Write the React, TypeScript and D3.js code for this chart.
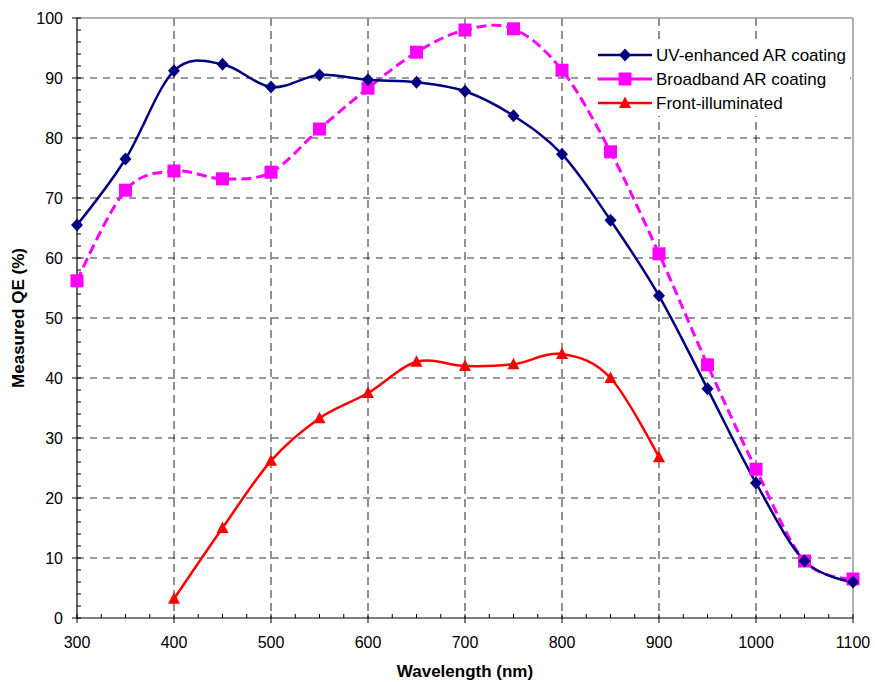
import React from "react";
import * as d3 from "d3";

const wavelengths = [300, 350, 400, 450, 500, 550, 600, 650, 700, 750, 800, 850, 900, 950, 1000, 1050, 1100];
const uvEnhanced = [65.5, 76.5, 91.2, 92.3, 88.5, 90.5, 89.7, 89.3, 87.8, 83.7, 77.3, 66.3, 53.7, 38.2, 22.5, 9.5, 6.0];
const broadband = [56.2, 71.3, 74.5, 73.2, 74.3, 81.5, 88.3, 94.3, 98.0, 98.2, 91.3, 77.7, 60.7, 42.2, 24.8, 9.5, 6.5];
const frontWavelengths = [400, 450, 500, 550, 600, 650, 700, 750, 800, 850, 900];
const frontIlluminated = [3.2, 15.0, 26.2, 33.3, 37.5, 42.7, 42.0, 42.3, 44.0, 40.0, 26.8];
const xTicks = [300, 400, 500, 600, 700, 800, 900, 1000, 1100];
const yTicks = [0, 10, 20, 30, 40, 50, 60, 70, 80, 90, 100];
const seriesNames = ["UV-enhanced AR coating", "Broadband AR coating", "Front-illuminated"];

const W = 875, H = 682;
const left = 77, right = 853, top = 18, bottom = 618;
const font = "'Liberation Sans', Arial, sans-serif";

export default function App() {
  const x = d3.scaleLinear().domain([300, 1100]).range([left, right]);
  const y = d3.scaleLinear().domain([0, 100]).range([bottom, top]);
  const line = d3.line<[number, number]>().x(d => x(d[0])).y(d => y(d[1])).curve(d3.curveCatmullRom.alpha(0));

  const uvPts = wavelengths.map((w, i) => [w, uvEnhanced[i]] as [number, number]);
  const bbPts = wavelengths.map((w, i) => [w, broadband[i]] as [number, number]);
  const fiPts = frontWavelengths.map((w, i) => [w, frontIlluminated[i]] as [number, number]);

  const navy = "#000080";
  const magenta = "#ff00ff";
  const red = "#ff0000";

  const diamond = (cx: number, cy: number, key: any) => (
    <path key={key} d={`M${cx},${cy - 6.5}L${cx + 6},${cy}L${cx},${cy + 6.5}L${cx - 6},${cy}Z`} fill={navy} />
  );
  const square = (cx: number, cy: number, key: any) => (
    <rect key={key} x={cx - 6.5} y={cy - 6.5} width={13} height={13} fill={magenta} />
  );
  const triangle = (cx: number, cy: number, key: any) => (
    <path key={key} d={`M${cx},${cy - 6.5}L${cx + 6},${cy + 5}L${cx - 6},${cy + 5}Z`} fill={red} />
  );

  const minorX = d3.range(300, 1100.1, 25);
  const minorY = d3.range(0, 100.1, 2);

  const legX = 598, legY = 40, legW = 252, legH = 76;
  const legRows = [55, 79, 103];

  return (
    <svg width={W} height={H} style={{ position: "absolute", left: 0, top: 0, background: "#fff" }}>
      <rect x={0} y={0} width={W} height={H} fill="#fff" />
      {/* grid */}
      {yTicks.filter(t => t > 0 && t < 100).map(t => (
        <line key={"gy" + t} x1={left} x2={right} y1={y(t)} y2={y(t)} stroke="#333" strokeWidth={1} strokeDasharray="7,6" />
      ))}
      {xTicks.filter(t => t > 300 && t < 1100).map(t => (
        <line key={"gx" + t} x1={x(t)} x2={x(t)} y1={top} y2={bottom} stroke="#222" strokeWidth={1} strokeDasharray="8,5" />
      ))}
      {/* legend background */}
      <rect x={legX} y={legY} width={legW} height={legH} fill="#fff" />
      {/* plot border */}
      <line x1={left} x2={right} y1={top} y2={top} stroke="#999" strokeWidth={1.5} />
      <line x1={right} x2={right} y1={top} y2={bottom} stroke="#999" strokeWidth={1.5} />
      {/* axes */}
      <line x1={left} x2={left} y1={top} y2={bottom} stroke="#000" strokeWidth={1.2} />
      <line x1={left} x2={right} y1={bottom} y2={bottom} stroke="#000" strokeWidth={1.2} />
      {minorX.map(t => (
        <line key={"mx" + t} x1={x(t)} x2={x(t)} y1={bottom} y2={bottom - 4} stroke="#000" strokeWidth={1} />
      ))}
      {xTicks.map(t => (
        <line key={"tx" + t} x1={x(t)} x2={x(t)} y1={bottom} y2={bottom + 5} stroke="#000" strokeWidth={1} />
      ))}
      {minorY.map(t => (
        <line key={"my" + t} x1={left} x2={left + 4} y1={y(t)} y2={y(t)} stroke="#000" strokeWidth={1} />
      ))}
      {yTicks.map(t => (
        <line key={"ty" + t} x1={left - 5} x2={left} y1={y(t)} y2={y(t)} stroke="#000" strokeWidth={1} />
      ))}
      {xTicks.map(t => (
        <text key={"lx" + t} x={x(t)} y={bottom + 30} textAnchor="middle" fontFamily={font} fontSize={16} fill="#000">{t}</text>
      ))}
      {yTicks.map(t => (
        <text key={"ly" + t} x={left - 14} y={y(t) + 5.5} textAnchor="end" fontFamily={font} fontSize={16} fill="#000">{t}</text>
      ))}
      <text x={465} y={677} textAnchor="middle" fontFamily={font} fontSize={17} fontWeight="bold" fill="#000">Wavelength (nm)</text>
      <text transform={`translate(24,318) rotate(-90)`} textAnchor="middle" fontFamily={font} fontSize={17} fontWeight="bold" fill="#000">Measured QE (%)</text>

      {/* series */}
      <path d={line(bbPts) || ""} fill="none" stroke={magenta} strokeWidth={3} strokeDasharray="10,5" />
      <path d={line(uvPts) || ""} fill="none" stroke={navy} strokeWidth={2.5} />
      <path d={line(fiPts) || ""} fill="none" stroke={red} strokeWidth={2.5} />
      {bbPts.map((p, i) => square(x(p[0]), y(p[1]), "bb" + i))}
      {uvPts.map((p, i) => diamond(x(p[0]), y(p[1]), "uv" + i))}
      {fiPts.map((p, i) => triangle(x(p[0]), y(p[1]), "fi" + i))}

      {/* legend */}
      <line x1={598} x2={652} y1={legRows[0]} y2={legRows[0]} stroke={navy} strokeWidth={2.5} />
      {diamond(625, legRows[0], "ld")}
      <line x1={598} x2={652} y1={legRows[1]} y2={legRows[1]} stroke={magenta} strokeWidth={3} />
      {square(625, legRows[1], "ls")}
      <line x1={598} x2={652} y1={legRows[2]} y2={legRows[2]} stroke={red} strokeWidth={2.5} />
      {triangle(625, legRows[2], "lt")}
      {seriesNames.map((n, i) => (
        <text key={n} x={656} y={legRows[i] + 6} fontFamily={font} fontSize={17} fill="#000">{n}</text>
      ))}
    </svg>
  );
}
